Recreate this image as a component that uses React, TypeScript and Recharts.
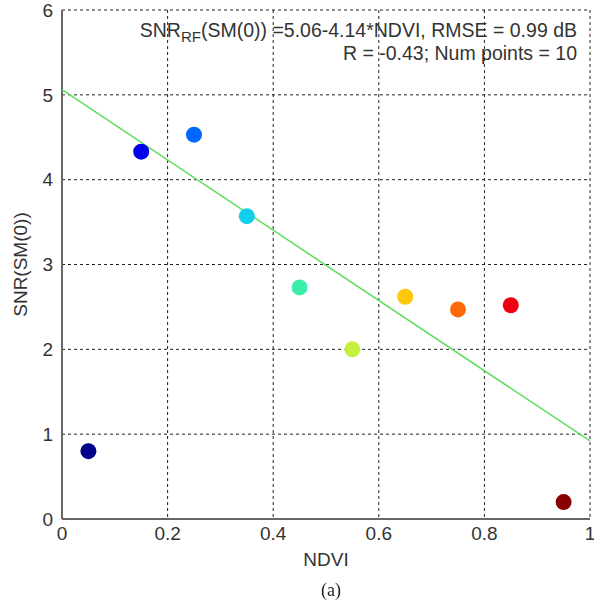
import { ScatterChart, Scatter, XAxis, YAxis, CartesianGrid, Cell } from 'recharts'

const ndvi = [0.05, 0.15, 0.25, 0.35, 0.45, 0.55, 0.65, 0.75, 0.85, 0.95]
const snr = [0.8, 4.33, 4.53, 3.57, 2.73, 2.0, 2.62, 2.47, 2.52, 0.2]
const pointColors = ['#000088', '#0000ee', '#0066ff', '#11d0ee', '#3aeeaa', '#c4f040', '#ffc808', '#ff6a08', '#ee0010', '#880000']

// fitted line end points, SNR = 5.06 - 4.14*NDVI
const fitX = [0, 1]
const fitY = [5.06, 0.92]

const xTicks = [0, 0.2, 0.4, 0.6, 0.8, 1]
const yTicks = [0, 1, 2, 3, 4, 5, 6]

const points = ndvi.map((x, i) => ({ x, y: snr[i] }))
const fitLine = fitX.map((x, i) => ({ x, y: fitY[i] }))

const font = 'Liberation Sans, Arial, sans-serif'

export default function App() {
  return (
    <div style={{ position: 'fixed', left: 0, top: 0, width: 594, height: 607, background: '#fff', fontFamily: font }}>
      <ScatterChart width={594} height={607} margin={{ top: 10, right: 4, bottom: 0, left: 0 }}>
        <CartesianGrid strokeDasharray="3 3" stroke="#222" />
        <XAxis
          type="number"
          dataKey="x"
          domain={[0, 1]}
          ticks={xTicks}
          interval={0}
          tickFormatter={(v: number) => String(v)}
          height={88}
          tickLine={false}
          tickSize={0}
          tickMargin={8}
          axisLine={{ stroke: '#666', strokeWidth: 2 }}
          tick={{ fill: '#333', fontSize: 19, fontFamily: font }}
          label={{ value: 'NDVI', position: 'insideTop', offset: 34, fill: '#333', fontSize: 19, fontFamily: font }}
        />
        <YAxis
          type="number"
          dataKey="y"
          domain={[0, 6]}
          ticks={yTicks}
          interval={0}
          width={62}
          tickLine={false}
          tickSize={0}
          tickMargin={9}
          axisLine={{ stroke: '#666', strokeWidth: 2 }}
          tick={{ fill: '#333', fontSize: 19, fontFamily: font }}
          label={{ value: 'SNR(SM(0))', angle: -90, position: 'insideLeft', offset: 20, fill: '#333', fontSize: 19, fontFamily: font, style: { textAnchor: 'middle' } }}
        />
        <Scatter
          data={fitLine}
          line={{ stroke: '#5ddd5d', strokeWidth: 1.5 }}
          shape={() => <g />}
          isAnimationActive={false}
        />
        <Scatter
          data={points}
          isAnimationActive={false}
          shape={(p: any) => <circle cx={p.cx} cy={p.cy} r={8} fill={p.fill} />}
        >
          {points.map((_, i) => (
            <Cell key={i} fill={pointColors[i]} />
          ))}
        </Scatter>
      </ScatterChart>
      <div style={{ position: 'absolute', right: 17, top: 19, textAlign: 'right', fontSize: 19.5, lineHeight: '23px', color: '#333', whiteSpace: 'nowrap' }}>
        <div>SNR<sub style={{ fontSize: 15, verticalAlign: '-5px', lineHeight: 0 }}>RF</sub>(SM(0)) =5.06-4.14*NDVI, RMSE = 0.99 dB</div>
        <div>R = -0.43; Num points = 10</div>
      </div>
      <div style={{ position: 'absolute', left: 0, width: 662, top: 580, textAlign: 'center', fontFamily: 'Liberation Serif, Times New Roman, serif', fontSize: 18, color: '#222' }}>
        (a)
      </div>
    </div>
  )
}
